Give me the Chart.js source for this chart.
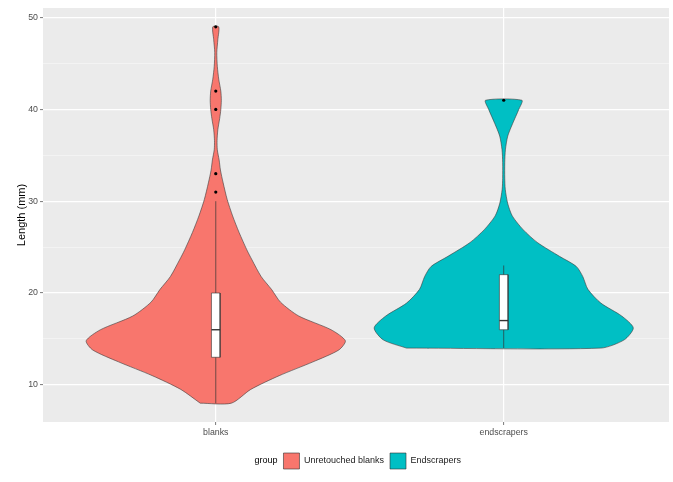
<!DOCTYPE html>
<html>
<head>
<meta charset="utf-8">
<script src="https://cdn.jsdelivr.net/npm/chart.js@4.4.1/dist/chart.umd.min.js"></script>
<style>
  html, body { margin: 0; padding: 0; background: #fff; }
</style>
</head>
<body>
<canvas id="chart" width="673" height="482"></canvas>
<script>
// categories on the x axis and legend names
const categories = ['blanks', 'endscrapers'];
const groupNames = ['Unretouched blanks', 'Endscrapers'];
const groupColors = ['#F8766D', '#00BFC4'];

// violin outline: length (mm) and relative density (max = 1)
const blanksLength = [8, 9.5, 11, 12.5, 13.8, 14.8, 16, 17.5, 19, 20.4, 21.8, 23.6, 24.7, 26.6, 28.4, 30.2, 32, 33.4, 34.5, 35.6, 36.6, 37.8, 39, 40, 41, 42, 43.3, 44.7, 46.2, 47.6, 49];
const blanksDensity = [0.12, 0.27, 0.49, 0.75, 0.95, 1.0, 0.89, 0.64, 0.50, 0.43, 0.35, 0.28, 0.24, 0.18, 0.13, 0.088, 0.057, 0.036, 0.026, 0.012, 0.01, 0.016, 0.03, 0.039, 0.043, 0.039, 0.023, 0.012, 0.008, 0.016, 0.023];
const endLength = [14, 14.9, 16.2, 17.5, 18.9, 20.4, 21.8, 22.9, 24, 25.5, 26.9, 28.4, 29.8, 31.3, 32.5, 34.2, 35.6, 37.1, 38.5, 40, 41];
const endDensity = [0.75, 0.93, 1.0, 0.91, 0.75, 0.65, 0.61, 0.56, 0.43, 0.26, 0.15, 0.066, 0.03, 0.012, 0.008, 0.008, 0.013, 0.031, 0.07, 0.116, 0.14];

// boxplot stats: lower whisker, q1, median, q3, upper whisker
const blanksBox = [8, 13, 16, 20, 30];
const endBox = [14, 16, 17, 22, 23];
const blanksOutliers = [31, 33, 40, 42, 49];
const endOutliers = [41];

const yTicks = [10, 20, 30, 40, 50];
const yMinor = [15, 25, 35, 45];

const violinHalf = 0.45;
const boxHalf = 0.015;

function violinPoints(center, lengths, density) {
    const left = lengths.map((y, i) => ({ x: center - density[i] * violinHalf, y: y }));
    const right = lengths.map((y, i) => ({ x: center + density[i] * violinHalf, y: y })).reverse();
    return left.concat(right, [left[0]]);
}

function boxDatasets(center, stats, outliers) {
    const [lo, q1, med, q3, hi] = stats;
    return [
        { // whisker line
            data: [{ x: center, y: lo }, { x: center, y: hi }],
            showLine: true, borderColor: '#333', borderWidth: 0.7, pointRadius: 0, order: 4
        },
        { // box
            data: [
                { x: center - boxHalf, y: q1 }, { x: center - boxHalf, y: q3 },
                { x: center + boxHalf, y: q3 }, { x: center + boxHalf, y: q1 },
                { x: center - boxHalf, y: q1 }
            ],
            showLine: true, fill: 'shape', backgroundColor: '#FFFFFF',
            borderColor: '#333', borderWidth: 0.6, pointRadius: 0, order: 3
        },
        { // median
            data: [{ x: center - boxHalf, y: med }, { x: center + boxHalf, y: med }],
            showLine: true, borderColor: '#333', borderWidth: 1.4, pointRadius: 0, order: 2
        },
        { // outliers
            data: outliers.map(v => ({ x: center, y: v })),
            showLine: false, pointRadius: 1.6, pointBackgroundColor: '#000',
            pointBorderWidth: 0, order: 1
        }
    ];
}

const datasets = [
    {
        label: groupNames[0],
        data: violinPoints(1, blanksLength, blanksDensity),
        showLine: true, fill: 'shape', tension: 0.25,
        backgroundColor: groupColors[0], borderColor: '#3a3a3a', borderWidth: 0.6,
        pointRadius: 0, order: 5
    },
    {
        label: groupNames[1],
        data: violinPoints(2, endLength, endDensity),
        showLine: true, fill: 'shape', tension: 0.25,
        backgroundColor: groupColors[1], borderColor: '#3a3a3a', borderWidth: 0.6,
        pointRadius: 0, order: 5
    }
].concat(boxDatasets(1, blanksBox, blanksOutliers), boxDatasets(2, endBox, endOutliers));

const panelBg = {
    id: 'panelBg',
    beforeDraw(chart) {
        const { ctx, chartArea: a } = chart;
        ctx.save();
        ctx.fillStyle = '#EBEBEB';
        ctx.fillRect(a.left, a.top, a.right - a.left, a.bottom - a.top);
        ctx.restore();
    }
};

Chart.defaults.font.family = "'Liberation Sans', Arial, sans-serif";

new Chart(document.getElementById('chart'), {
    type: 'scatter',
    data: { datasets: datasets },
    plugins: [panelBg],
    options: {
        responsive: false,
        animation: false,
        // left padding also nudges the legend right; the y axis box is narrowed to match
        layout: { padding: { left: 26, right: 4, top: 8, bottom: 3 } },
        scales: {
            x: {
                type: 'linear',
                min: 0.4,
                max: 2.574,
                afterBuildTicks: s => { s.ticks = categories.map((c, i) => ({ value: i + 1 })); },
                afterFit: s => { s.height = 25; },
                border: { display: false },
                grid: { color: '#FFFFFF', lineWidth: 1.2, tickColor: '#555', tickLength: 3, tickWidth: 0.8 },
                ticks: {
                    callback: v => categories[Math.round(v) - 1] || '',
                    color: '#4D4D4D', font: { size: 8.8 }, padding: 2, maxRotation: 0, autoSkip: false
                }
            },
            y: {
                type: 'linear',
                min: 5.95,
                max: 51.05,
                afterBuildTicks: s => { s.ticks = yTicks.concat(yMinor).sort((a, b) => a - b).map(v => ({ value: v })); },
                afterFit: s => { s.width = 17; },
                border: { display: false },
                grid: {
                    color: c => (c.tick && yTicks.includes(c.tick.value)) ? '#FFFFFF' : 'rgba(255,255,255,0.7)',
                    lineWidth: c => (c.tick && yTicks.includes(c.tick.value)) ? 1.2 : 0.6,
                    tickColor: c => (c.tick && yTicks.includes(c.tick.value)) ? '#555' : 'rgba(0,0,0,0)',
                    tickLength: 3, tickWidth: 0.8
                },
                ticks: {
                    callback: v => yTicks.includes(v) ? String(v) : '',
                    color: '#4D4D4D', font: { size: 8.8 }, padding: 2, autoSkip: false
                },
                title: {
                    display: true, text: 'Length (mm)', color: '#000',
                    font: { size: 11 }, padding: { top: -11, bottom: 0 }
                }
            }
        },
        plugins: {
            tooltip: { enabled: false },
            legend: {
                position: 'bottom',
                onClick: null,
                labels: {
                    boxWidth: 16, boxHeight: 16, padding: 6,
                    font: { size: 9 }, color: '#1a1a1a',
                    generateLabels: () => [
                        { text: 'group', fillStyle: 'rgba(0,0,0,0)', strokeStyle: 'rgba(0,0,0,0)', lineWidth: 0, fontColor: '#000', hidden: false },
                        { text: groupNames[0], fillStyle: groupColors[0], strokeStyle: '#333', lineWidth: 0.6, fontColor: '#1a1a1a', hidden: false },
                        { text: groupNames[1], fillStyle: groupColors[1], strokeStyle: '#333', lineWidth: 0.6, fontColor: '#1a1a1a', hidden: false }
                    ]
                }
            }
        }
    }
});
</script>
</body>
</html>
